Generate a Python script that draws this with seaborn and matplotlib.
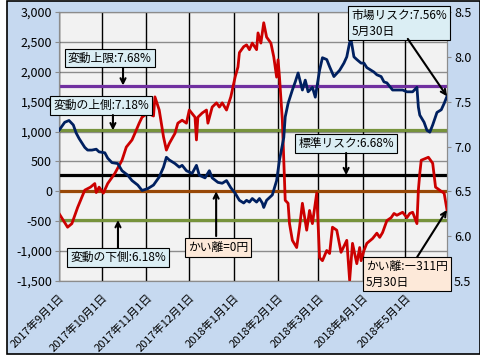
import matplotlib
matplotlib.use("Agg")
import matplotlib.pyplot as plt
import matplotlib.dates as mdates
from matplotlib.patches import Rectangle
import pandas as pd
import seaborn as sns

# かい離 (円, 左軸)
red_dates = ["2017-09-01", "2017-09-07", "2017-09-10", "2017-09-14", "2017-09-19", "2017-09-23",
             "2017-09-26", "2017-09-27", "2017-09-29", "2017-10-02", "2017-10-05", "2017-10-10",
             "2017-10-15", "2017-10-18", "2017-10-22", "2017-10-24", "2017-10-27", "2017-10-29",
             "2017-11-02", "2017-11-06", "2017-11-07", "2017-11-10", "2017-11-13", "2017-11-15",
             "2017-11-17", "2017-11-21", "2017-11-23", "2017-11-26", "2017-11-29", "2017-12-01",
             "2017-12-05", "2017-12-06", "2017-12-07", "2017-12-10", "2017-12-13", "2017-12-14",
             "2017-12-17", "2017-12-20", "2017-12-22", "2017-12-24", "2017-12-27", "2017-12-30",
             "2018-01-02", "2018-01-04", "2018-01-05", "2018-01-08", "2018-01-10", "2018-01-12",
             "2018-01-14", "2018-01-17", "2018-01-18", "2018-01-20", "2018-01-22", "2018-01-24",
             "2018-01-27", "2018-01-29", "2018-01-31", "2018-02-01", "2018-02-02", "2018-02-04",
             "2018-02-05", "2018-02-06", "2018-02-08", "2018-02-09", "2018-02-11", "2018-02-14",
             "2018-02-16", "2018-02-18", "2018-02-21", "2018-02-23", "2018-02-25", "2018-02-28",
             "2018-03-02", "2018-03-04", "2018-03-07", "2018-03-09", "2018-03-11", "2018-03-14",
             "2018-03-17", "2018-03-21", "2018-03-23", "2018-03-25", "2018-03-28", "2018-03-30",
             "2018-03-31", "2018-04-02", "2018-04-04", "2018-04-08", "2018-04-11", "2018-04-13",
             "2018-04-15", "2018-04-18", "2018-04-21", "2018-04-23", "2018-04-25", "2018-04-29",
             "2018-05-02", "2018-05-04", "2018-05-06", "2018-05-09", "2018-05-10", "2018-05-11",
             "2018-05-12", "2018-05-17", "2018-05-20", "2018-05-22", "2018-05-26", "2018-05-28",
             "2018-05-30"]
red_vals = [-370, -600, -540, -270, 20, 70,
            130, -20, 70, -30, 130, 300,
            520, 740, 860, 970, 1140, 1240,
            1310, 1260, 1580, 1360, 910, 690,
            800, 970, 1140, 1190, 1140, 1360,
            1240, 860, 1240, 1310, 1360, 1140,
            1410, 1480, 1410, 1480, 1360, 1580,
            1910, 2080, 2320, 2420, 2450, 2370,
            2480, 2370, 2650, 2480, 2820, 2580,
            2480, 2250, 1910, 2200, 1910, 1190,
            520, -150, -200, -540, -820, -940,
            -600, -200, -650, -320, -540, -30,
            -1110, -1160, -990, -1040, -600, -650,
            -1020, -820, -1490, -870, -1210, -940,
            -1160, -990, -870, -790, -700, -770,
            -690, -490, -440, -370, -400, -350,
            -440, -370, -350, -540, 20, 300,
            520, 570, 470, 70, 0, -30,
            -311]

# 市場リスク (%, 右軸)
blue_dates = ["2017-09-01", "2017-09-05", "2017-09-08", "2017-09-11", "2017-09-13", "2017-09-15",
              "2017-09-19", "2017-09-21", "2017-09-24", "2017-09-27", "2017-09-29", "2017-10-03",
              "2017-10-05", "2017-10-08", "2017-10-12", "2017-10-15", "2017-10-19", "2017-10-22",
              "2017-10-26", "2017-10-29", "2017-11-02", "2017-11-06", "2017-11-10", "2017-11-13",
              "2017-11-15", "2017-11-17", "2017-11-21", "2017-11-24", "2017-11-26", "2017-11-29",
              "2017-12-03", "2017-12-06", "2017-12-08", "2017-12-12", "2017-12-15", "2017-12-17",
              "2017-12-21", "2017-12-24", "2017-12-27", "2017-12-30", "2018-01-02", "2018-01-05",
              "2018-01-08", "2018-01-10", "2018-01-12", "2018-01-14", "2018-01-17", "2018-01-19",
              "2018-01-21", "2018-01-22", "2018-01-24", "2018-01-28", "2018-01-31", "2018-02-02",
              "2018-02-05", "2018-02-06", "2018-02-08", "2018-02-11", "2018-02-13", "2018-02-15",
              "2018-02-18", "2018-02-20", "2018-02-22", "2018-02-25", "2018-02-27", "2018-03-02",
              "2018-03-04", "2018-03-07", "2018-03-09", "2018-03-12", "2018-03-16", "2018-03-19",
              "2018-03-21", "2018-03-23", "2018-03-24", "2018-03-26", "2018-03-28", "2018-03-31",
              "2018-04-02", "2018-04-04", "2018-04-07", "2018-04-09", "2018-04-11", "2018-04-14",
              "2018-04-16", "2018-04-18", "2018-04-22", "2018-04-25", "2018-04-29", "2018-05-02",
              "2018-05-06", "2018-05-09", "2018-05-10", "2018-05-11", "2018-05-14", "2018-05-16",
              "2018-05-18", "2018-05-20", "2018-05-23", "2018-05-26", "2018-05-28", "2018-05-30"]
blue_vals = [7.18, 7.27, 7.29, 7.24, 7.15, 7.09,
             6.99, 6.96, 6.96, 6.97, 6.94, 6.93,
             6.87, 6.82, 6.81, 6.73, 6.68, 6.62,
             6.57, 6.51, 6.53, 6.57, 6.66, 6.77,
             6.88, 6.85, 6.81, 6.77, 6.79, 6.73,
             6.70, 6.79, 6.68, 6.65, 6.73, 6.65,
             6.60, 6.59, 6.62, 6.54, 6.48, 6.40,
             6.37, 6.40, 6.38, 6.42, 6.38, 6.42,
             6.37, 6.32, 6.40, 6.46, 6.62, 6.85,
             7.10, 7.33, 7.48, 7.63, 7.72, 7.82,
             7.63, 7.74, 7.61, 7.66, 7.55, 7.85,
             7.99, 7.97, 7.89, 7.78, 7.85, 7.93,
             8.00, 8.16, 8.19, 8.00, 7.97, 7.93,
             7.93, 7.88, 7.85, 7.83, 7.80, 7.78,
             7.72, 7.71, 7.63, 7.63, 7.63, 7.61,
             7.61, 7.66, 7.44, 7.35, 7.27, 7.18,
             7.16, 7.24, 7.38, 7.41, 7.48, 7.56]

# 基準線 (左軸の値): 変動上限, 変動の上側, 標準リスク, かい離=0, 変動の下側
level_vals = [1770, 1020, 270, 0, -480]
level_colors = ["#7030a0", "#77933c", "#000000", "#984807", "#77933c"]

month_ticks = ["2017-09-01", "2017-10-01", "2017-11-01", "2017-12-01", "2018-01-01",
               "2018-02-01", "2018-03-01", "2018-04-01", "2018-05-01"]

df_red = pd.DataFrame({"date": pd.to_datetime(red_dates), "val": red_vals})
df_blue = pd.DataFrame({"date": pd.to_datetime(blue_dates), "val": blue_vals})

plt.rcParams['font.family'] = ['Noto Sans CJK JP', 'DejaVu Sans']

fig = plt.figure(figsize=(4.8, 3.6), dpi=100, facecolor="white")
fig.patches.append(Rectangle((7 / 480, 1 - 354 / 360), 473 / 480, 353 / 360,
                             transform=fig.transFigure, facecolor="#c6d9f0",
                             edgecolor="black", lw=1.2, zorder=-1))
ax = fig.add_axes([59 / 480, 1 - 281 / 360, 388 / 480, 269 / 360])
ax.set_facecolor("#f2f2f2")
ax2 = ax.twinx()

ax.set_xlim(pd.Timestamp("2017-09-01"), pd.Timestamp("2018-05-30"))
ax.set_ylim(-1500, 3000)
ax2.set_ylim(5.5, 8.5)

# grid
for v in range(-1500, 3001, 500):
    ax.axhline(v, color="#8c8c8c", lw=1, zorder=1)
for d in month_ticks:
    ax.axvline(pd.Timestamp(d), color="black", lw=1, zorder=1)

for v, c in zip(level_vals, level_colors):
    ax.axhline(v, color=c, lw=2.3, zorder=2)

sns.lineplot(data=df_red, x="date", y="val", ax=ax, color="#cc0000", lw=2, zorder=3)
sns.lineplot(data=df_blue, x="date", y="val", ax=ax2, color="#002060", lw=2, zorder=3)

ax.set_yticks(range(-1500, 3001, 500))
ax.set_yticklabels([f"{v:,}" for v in range(-1500, 3001, 500)])
ax2.set_yticks([5.5, 6.0, 6.5, 7.0, 7.5, 8.0, 8.5])
ax2.set_yticklabels([f"{v:.1f}" for v in [5.5, 6.0, 6.5, 7.0, 7.5, 8.0, 8.5]])
tick_dates = pd.to_datetime(month_ticks)
ax.set_xticks(tick_dates)
ax.set_xticklabels([f"{d.year}年{d.month}月{d.day}日" for d in tick_dates],
                   rotation=45, ha="right", rotation_mode="anchor")
ax.set_xlabel("")
ax.set_ylabel("")
ax2.set_ylabel("")
ax.tick_params(axis="y", labelsize=9, length=3, color="#8c8c8c", pad=2)
ax2.tick_params(axis="y", labelsize=9, length=3, color="#8c8c8c", pad=2)
ax.tick_params(axis="x", labelsize=8, length=0, pad=8)
for a in (ax, ax2):
    for s in a.spines.values():
        s.set_color("#8c8c8c")

blue_box = dict(boxstyle="square,pad=0.25", fc="#dbeef4", ec="black", lw=0.8)
peach_box = dict(boxstyle="square,pad=0.25", fc="#fde9d9", ec="black", lw=0.8)
arrow = dict(arrowstyle="->", color="black", lw=1.5, mutation_scale=9, shrinkA=0, shrinkB=0)
fs = 8.5
ymix = ax.get_yaxis_transform()

ax2.text(0.131, 0.829, "変動上限:7.68%", transform=ax.transAxes, ha="center", va="center",
         fontsize=fs, bbox=blue_box, zorder=6)
ax2.annotate("", xy=(0.165, level_vals[0]), xycoords=ymix,
             xytext=(0.165, 0.792), textcoords=ax.transAxes, arrowprops=arrow, zorder=6)

ax2.text(0.108, 0.651, "変動の上側:7.18%", transform=ax.transAxes, ha="center", va="center",
         fontsize=fs, bbox=blue_box, zorder=6)
ax2.annotate("", xy=(0.139, level_vals[1]), xycoords=ymix,
             xytext=(0.139, 0.617), textcoords=ax.transAxes, arrowprops=arrow, zorder=6)

ax2.text(0.152, 0.087, "変動の下側:6.18%", transform=ax.transAxes, ha="center", va="center",
         fontsize=fs, bbox=blue_box, zorder=6)
ax2.annotate("", xy=(0.152, level_vals[4]), xycoords=ymix,
             xytext=(0.152, 0.123), textcoords=ax.transAxes, arrowprops=arrow, zorder=6)

ax2.text(0.410, 0.126, "かい離=0円", transform=ax.transAxes, ha="center", va="center",
         fontsize=fs, bbox=peach_box, zorder=6)
ax2.annotate("", xy=(0.405, level_vals[3]), xycoords=ymix,
             xytext=(0.405, 0.167), textcoords=ax.transAxes, arrowprops=arrow, zorder=6)

ax2.text(0.740, 0.511, "標準リスク:6.68%", transform=ax.transAxes, ha="center", va="center",
         fontsize=fs, bbox=blue_box, zorder=6)
ax2.annotate("", xy=(0.740, level_vals[2]), xycoords=ymix,
             xytext=(0.740, 0.476), textcoords=ax.transAxes, arrowprops=arrow, zorder=6)

last_x = mdates.date2num(df_red["date"].iloc[-1])

ax2.text(0.753, 0.959, "市場リスク:7.56%\n5月30日", transform=ax.transAxes, ha="left", va="center",
         fontsize=fs, bbox=blue_box, zorder=6, linespacing=1.3)
ax2.annotate("", xy=(last_x, blue_vals[-1]), xycoords=ax2.transData,
             xytext=(0.899, 0.900), textcoords=ax.transAxes, arrowprops=arrow, zorder=6)

ax2.text(0.791, 0.026, "かい離:―311円\n5月30日", transform=ax.transAxes, ha="left", va="center",
         fontsize=fs, bbox=peach_box, zorder=6, linespacing=1.3)
ax2.annotate("", xy=(last_x, red_vals[-1]), xycoords=ax.transData,
             xytext=(0.923, 0.089), textcoords=ax.transAxes, arrowprops=arrow, zorder=6)

fig.savefig("out.png", dpi=100, facecolor=fig.get_facecolor())
